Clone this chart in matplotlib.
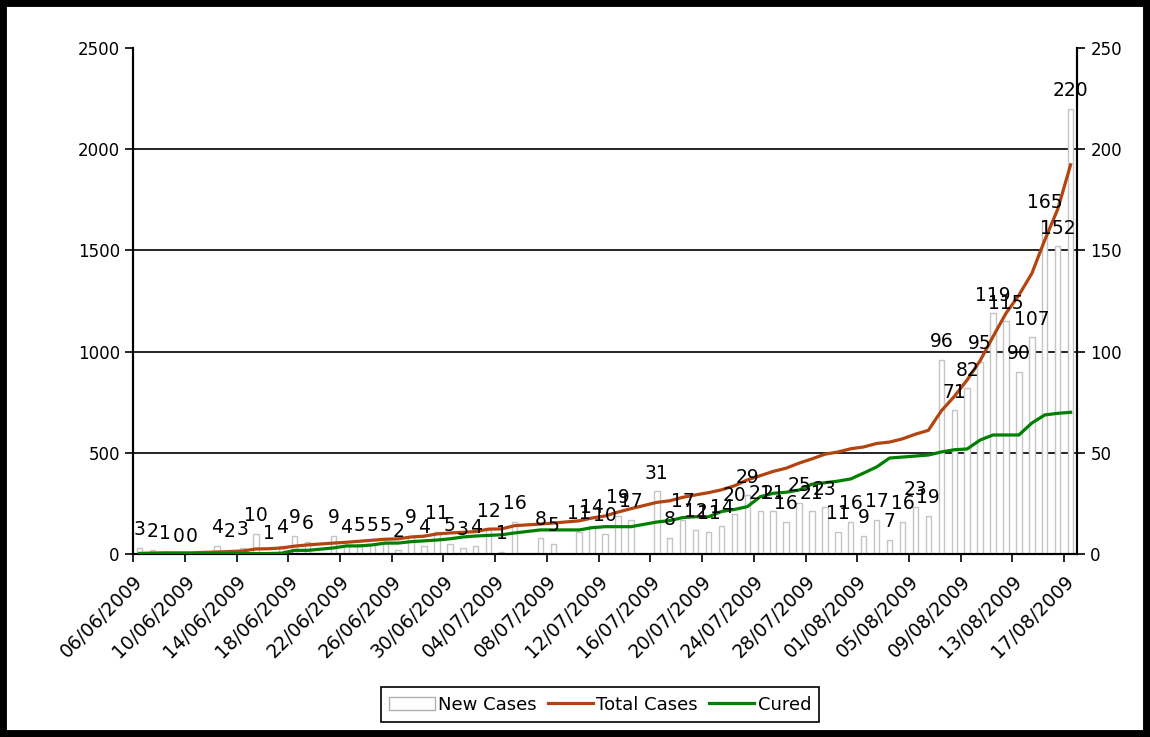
import numpy as np
import pandas as pd
import matplotlib
matplotlib.use("Agg")
import matplotlib.pyplot as plt
import matplotlib.dates as mdates
from matplotlib.patches import Patch, Rectangle
from matplotlib.lines import Line2D

# days with a report (11/06, 20/06, 06/07, 09/07 and 15/07 have none)
dates = [
    "06/06/2009", "07/06/2009", "08/06/2009", "09/06/2009", "10/06/2009",
    "12/06/2009", "13/06/2009", "14/06/2009", "15/06/2009", "16/06/2009",
    "17/06/2009", "18/06/2009", "19/06/2009",
    "21/06/2009", "22/06/2009", "23/06/2009", "24/06/2009", "25/06/2009",
    "26/06/2009", "27/06/2009", "28/06/2009", "29/06/2009", "30/06/2009",
    "01/07/2009", "02/07/2009", "03/07/2009", "04/07/2009", "05/07/2009",
    "07/07/2009", "08/07/2009",
    "10/07/2009", "11/07/2009", "12/07/2009", "13/07/2009", "14/07/2009",
    "16/07/2009", "17/07/2009", "18/07/2009", "19/07/2009", "20/07/2009",
    "21/07/2009", "22/07/2009", "23/07/2009", "24/07/2009", "25/07/2009",
    "26/07/2009", "27/07/2009", "28/07/2009", "29/07/2009", "30/07/2009",
    "31/07/2009", "01/08/2009", "02/08/2009", "03/08/2009", "04/08/2009",
    "05/08/2009", "06/08/2009", "07/08/2009", "08/08/2009", "09/08/2009",
    "10/08/2009", "11/08/2009", "12/08/2009", "13/08/2009", "14/08/2009",
    "15/08/2009", "16/08/2009", "17/08/2009",
]
new_cases = [
    3, 2, 1, 0, 0,
    4, 2, 3, 10, 1, 4, 9, 6,
    9, 4, 5, 5, 5, 2, 9, 4, 11, 5, 3, 4, 12, 1, 16,
    8, 5,
    11, 14, 10, 19, 17,
    31, 8, 17, 12, 11, 14, 20, 29, 21, 21, 16, 25, 21, 23, 11, 16, 9, 17, 7,
    16, 23, 19, 96, 71, 82, 95, 119, 115, 90, 107, 165, 152, 220,
]
total_cases = [
    3, 5, 6, 6, 6,
    10, 12, 15, 25, 26, 30, 39, 45,
    54, 58, 63, 68, 73, 75, 84, 88, 99, 104, 107, 111, 123, 124, 140,
    148, 153,
    164, 178, 188, 207, 224,
    255, 263, 280, 292, 303, 317, 337, 366, 387, 408, 424, 449, 470, 493,
    504, 520, 529, 546, 553, 569, 592, 611, 707, 778, 860, 955, 1074, 1189,
    1279, 1386, 1551, 1703, 1923,
]
cured = [
    2, 2, 2, 2, 2,
    2, 2, 2, 2, 2, 4, 18, 18,
    30, 40, 40, 45, 54, 54, 61, 65, 69, 75, 84, 89, 92, 95, 104,
    119, 119,
    119, 130, 135, 135, 135,
    158, 165, 180, 184, 184, 210, 220, 234, 283, 300, 305, 316, 345, 352,
    360, 371, 400, 430, 474, 479, 484, 489, 504, 515, 519, 563, 588, 588,
    588, 647, 687, 695, 700,
]

brown = "#b4440f"
green = "#008000"
fs = 12

x = mdates.date2num(pd.to_datetime(dates, format="%d/%m/%Y")) + 0.5
tick_days = pd.date_range("2009-06-06", "2009-08-17", freq="4D")

fig = plt.figure(figsize=(11.5, 7.37), dpi=100)
ax = fig.add_axes([0.1157, 0.2483, 0.8209, 0.6866])
ax2 = ax.twinx()  # lines, drawn above the bars

# bars on the right-hand scale
for g in [50, 100, 150, 200]:
    ax.axhline(g, color="black", lw=1.2, zorder=1)
ax.bar(x, new_cases, width=0.42, color="white", edgecolor="#c4c4c4",
       linewidth=1.0, zorder=2)
ax.set_ylim(0, 250)
ax.set_yticks(range(0, 251, 50))
ax.yaxis.tick_right()
ax.yaxis.set_label_position("right")
ax.set_xlim(mdates.date2num(pd.Timestamp("2009-06-06")),
            mdates.date2num(pd.Timestamp("2009-08-18")))
ax.set_xticks(mdates.date2num(tick_days))
ax.set_xticklabels([d.strftime("%d/%m/%Y") for d in tick_days],
                   rotation=45, ha="right", rotation_mode="anchor",
                   fontsize=13.5)
ax.tick_params(axis="both", direction="out", length=6, width=1.2,
               color="black")
ax.tick_params(axis="y", labelsize=fs)
ax.tick_params(axis="x", pad=7)
ax.spines["top"].set_visible(False)
for s in ["left", "right", "bottom"]:
    ax.spines[s].set_linewidth(1.5)

# lines on the left-hand scale
ax2.yaxis.tick_left()
ax2.yaxis.set_label_position("left")
ax2.plot(x, total_cases, color=brown, lw=2.3, zorder=3)
ax2.plot(x, cured, color=green, lw=2.3, zorder=3)
ax2.set_ylim(0, 2500)
ax2.set_yticks(range(0, 2501, 500))
ax2.tick_params(axis="y", direction="out", length=6, width=1.2, labelsize=fs)
ax2.spines["top"].set_visible(False)
for s in ["left", "right", "bottom"]:
    ax2.spines[s].set_linewidth(1.5)

# value labels above the bars
for xi, v in zip(x, new_cases):
    ax2.annotate(str(v), (xi, v * 10), xytext=(0, 9),
                 textcoords="offset points", ha="center", va="baseline",
                 fontsize=13.5, zorder=5)

handles = [
    Patch(facecolor="white", edgecolor="#b0b0b0", linewidth=1.0),
    Line2D([], [], color=brown, lw=2.3),
    Line2D([], [], color=green, lw=2.3),
]
leg = fig.legend(handles, ["New Cases", "Total Cases", "Cured"],
                 loc="center", bbox_to_anchor=(0.522, 0.044), ncol=3,
                 fontsize=13, frameon=True, fancybox=False,
                 edgecolor="black", framealpha=1, handlelength=2.5,
                 handletextpad=0.2, columnspacing=0.6, borderpad=0.45)
leg.get_frame().set_linewidth(1.2)

fig.add_artist(Rectangle((0, 0), 1, 1, transform=fig.transFigure,
                         fill=False, edgecolor="black", linewidth=10))

fig.savefig("out.png", dpi=100)
